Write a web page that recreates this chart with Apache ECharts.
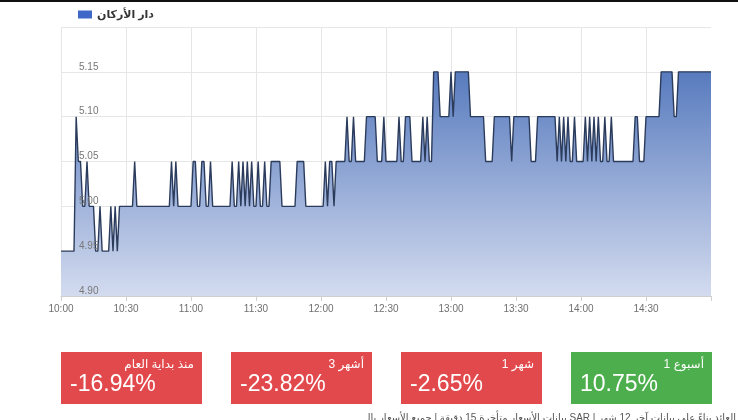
<!DOCTYPE html>
<html>
<head>
<meta charset="utf-8">
<script src="https://cdn.jsdelivr.net/npm/echarts@6/dist/echarts.min.js"></script>
<style>
html,body{margin:0;padding:0;background:#fff;}
#chart{width:738px;height:420px;}
</style>
</head>
<body>
<div id="chart"></div>
<script>
// ---- data ----
const seriesName = 'دار الأركان';
// one price per minute, 10:00 .. 15:00
const prices = [
  4.95,4.95,4.95,4.95,4.95,4.95,4.95,5.10,5.05,5.05,
  5.00,5.00,5.05,5.00,5.00,5.00,4.95,4.95,5.00,4.95,
  4.95,4.95,4.95,5.00,4.95,5.00,4.95,5.00,5.00,5.00,
  // 10:30
  5.00,5.00,5.00,5.00,5.05,5.00,5.00,5.00,5.00,5.00,
  5.00,5.00,5.00,5.00,5.00,5.00,5.00,5.00,5.00,5.00,
  5.00,5.05,5.00,5.05,5.00,5.00,5.00,5.00,5.00,5.00,
  // 11:00
  5.00,5.05,5.05,5.00,5.00,5.05,5.05,5.00,5.00,5.05,
  5.00,5.00,5.00,5.00,5.00,5.00,5.00,5.00,5.00,5.05,
  5.00,5.00,5.05,5.00,5.05,5.00,5.05,5.00,5.05,5.00,
  // 11:30
  5.00,5.05,5.00,5.00,5.05,5.00,5.00,5.05,5.05,5.05,
  5.05,5.05,5.00,5.00,5.00,5.00,5.00,5.00,5.00,5.05,
  5.05,5.05,5.05,5.00,5.00,5.00,5.00,5.00,5.00,5.00,
  // 12:00
  5.00,5.00,5.05,5.00,5.05,5.05,5.00,5.05,5.05,5.05,
  5.05,5.05,5.10,5.05,5.05,5.10,5.05,5.05,5.05,5.05,
  5.05,5.10,5.10,5.10,5.10,5.10,5.05,5.05,5.05,5.10,
  // 12:30
  5.05,5.05,5.05,5.05,5.05,5.05,5.10,5.05,5.05,5.10,
  5.10,5.10,5.05,5.05,5.05,5.05,5.05,5.10,5.05,5.10,
  5.05,5.05,5.15,5.15,5.15,5.10,5.10,5.10,5.10,5.10,
  // 13:00
  5.15,5.10,5.15,5.15,5.15,5.15,5.15,5.15,5.15,5.10,
  5.10,5.10,5.10,5.10,5.10,5.10,5.05,5.05,5.05,5.05,
  5.10,5.10,5.10,5.10,5.10,5.10,5.10,5.10,5.05,5.10,
  // 13:30
  5.10,5.10,5.10,5.10,5.10,5.10,5.10,5.05,5.05,5.05,
  5.10,5.10,5.10,5.10,5.10,5.10,5.10,5.10,5.10,5.05,
  5.10,5.05,5.10,5.05,5.10,5.05,5.05,5.10,5.05,5.05,
  // 14:00
  5.05,5.05,5.10,5.05,5.10,5.05,5.10,5.05,5.10,5.05,
  5.05,5.10,5.05,5.05,5.10,5.05,5.05,5.05,5.05,5.05,
  5.05,5.05,5.05,5.05,5.05,5.10,5.10,5.05,5.05,5.05,
  // 14:30
  5.10,5.10,5.10,5.10,5.10,5.10,5.10,5.15,5.15,5.15,
  5.15,5.15,5.15,5.10,5.10,5.15,5.15,5.15,5.15,5.15,
  5.15,5.15,5.15,5.15,5.15,5.15,5.15,5.15,5.15,5.15,
  // 15:00
  5.15
];
const xTickLabels = ['10:00','10:30','11:00','11:30','12:00','12:30','13:00','13:30','14:00','14:30',''];
const yTickLabels = ['4.90','4.95','5.00','5.05','5.10','5.15',''];
// performance boxes, right to left
const perfTitles = ['1 أسبوع','1 شهر','3 أشهر','منذ بداية العام'];
const perfValues = [10.75, -2.65, -23.82, -16.94];
const footerText = 'بيانات الأسعار متأخرة 15 دقيقة | جميع الأسعار بالـ SAR | العائد بناءً على بيانات آخر 12 شهر';

// ---- chart ----
const FONT = '"Liberation Sans", Arial, "DejaVu Sans", sans-serif';
const chart = echarts.init(document.getElementById('chart'), null, {renderer:'canvas'});

const boxes = [];
const boxW = 141, boxH = 52, boxY = 352;
perfValues.forEach((v, i) => {
  const x = 571 - i * 170;
  const col = v < 0 ? '#e2494d' : '#4cae4c';
  boxes.push({type:'rect', shape:{x:x, y:boxY, width:boxW, height:boxH}, style:{fill:col}, silent:true});
  boxes.push({type:'text', x:x + boxW - 8, y:boxY + 13, style:{text:perfTitles[i], fill:'#fff', fontSize:12, fontFamily:FONT, align:'right', verticalAlign:'middle'}});
  boxes.push({type:'text', x:x + 9, y:boxY + 33, style:{text:v.toFixed(2) + '%', fill:'#fff', fontSize:23, fontFamily:FONT, align:'left', verticalAlign:'middle'}});
});

const yBase = {type: 'value', min: 4.9, max: 5.2, interval: 0.05, axisLine: {show: false}, axisTick: {show: false}};

const option = {
  animation: false,
  backgroundColor: '#fff',
  textStyle: {fontFamily: FONT},
  legend: {
    left: 73, top: 4, itemWidth: 14, itemHeight: 8, itemGap: 10,
    data: [{name: seriesName, icon: 'rect', itemStyle: {color: '#3e67c8', borderWidth: 0}}],
    textStyle: {fontSize: 11, color: '#333', fontWeight: 'bold', fontFamily: FONT}
  },
  grid: {left: 61, right: 27, top: 27, bottom: 124, outerBoundsMode: 'none', containLabel: false},
  xAxis: {
    type: 'value', min: 0, max: 300, interval: 30,
    axisLine: {show: true, lineStyle: {color: '#cfcfcf'}},
    axisTick: {show: true, length: 5, lineStyle: {color: '#cfcfcf'}},
    axisLabel: {color: '#6f6f6f', fontSize: 10, margin: 8, fontFamily: FONT,
      formatter: v => xTickLabels[Math.round(v / 30)] || ''},
    splitLine: {show: true, showMaxLine: false, lineStyle: {color: '#e6e6e6'}}
  },
  yAxis: [
    Object.assign({}, yBase, {
      axisLabel: {show: false},
      splitLine: {show: true, lineStyle: {color: '#e6e6e6'}}
    }),
    Object.assign({}, yBase, {
      position: 'left', z: 6,
      splitLine: {show: false},
      axisLabel: {inside: true, margin: 18, color: '#777', fontSize: 10, verticalAlign: 'bottom', fontFamily: FONT,
        formatter: v => yTickLabels[Math.round((v - 4.9) / 0.05)] || ''}
    })
  ],
  series: [{
    name: seriesName, type: 'line', symbol: 'none', yAxisIndex: 0,
    data: prices.map((p, i) => [i, p]),
    itemStyle: {color: '#3e67c8'},
    lineStyle: {color: '#2b3b5b', width: 1.4},
    areaStyle: {origin: 'start', opacity: 1, color: new echarts.graphic.LinearGradient(0, 0, 0, 1, [
      {offset: 0, color: '#587bbe'}, {offset: 1, color: '#d3dbef'}])}
  }],
  graphic: [
    {type:'rect', shape:{x:0, y:0, width:738, height:2}, style:{fill:'#111'}, silent:true},
    ...boxes,
    {type:'text', x:736, y:413, style:{text: footerText, fill:'#555', fontSize:10, fontFamily:FONT, align:'right', verticalAlign:'top'}}
  ]
};
chart.setOption(option);
</script>
</body>
</html>
